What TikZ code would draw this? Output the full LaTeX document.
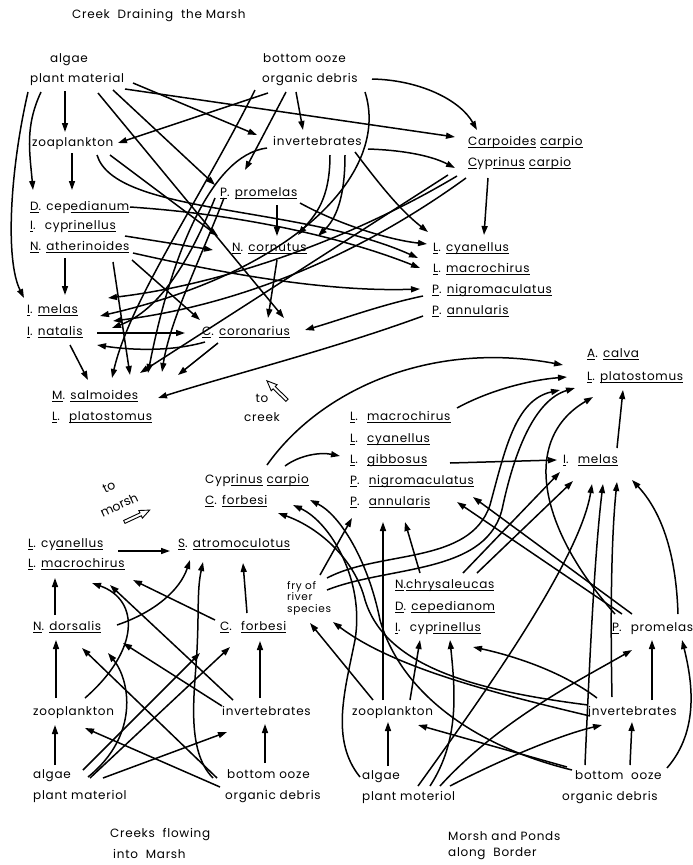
\documentclass[tikz,border=0pt]{standalone}
\usepackage{fontspec}
\setmainfont{Poppins}[LetterSpace=6]
\newfontfamily\plainf{Poppins}
\usetikzlibrary{arrows.meta}
\newcommand\Nd[5][lbl]{\expandafter\gdef\csname cx#2\endcsname{#3}\expandafter\gdef\csname cy#2\endcsname{#4}\node[#1] (#2) at (#3,-#4) {#5};}
\newcommand\Pt[3]{([shift={({#2-\csname cx#1\endcsname},{\csname cy#1\endcsname-#3})}]#1.west)}
\newcommand\Dr[1]{\edef\tmpdraw{\noexpand\draw[ar] #1;}\tmpdraw}
\newcommand\sul[1]{\setbox0\hbox{#1}\rlap{\raisebox{-2.9pt}{\rule{\wd0}{0.7pt}}}\box0}
\begin{document}
\begin{tikzpicture}[x=1pt,y=1pt,
  lbl/.style={anchor=west,inner xsep=0pt,inner ysep=0pt,text height=9pt,text depth=3pt,font=\fontsize{12}{14}\selectfont},
  fry/.style={anchor=west,inner sep=0pt,align=left,font=\fontsize{10.5}{11.5}\selectfont},
  ttl/.style={anchor=west,inner sep=0pt,font=\fontsize{12}{14}\selectfont},
  rot/.style={anchor=center,inner sep=0pt,rotate=25,font=\plainf\fontsize{12.5}{14}\selectfont},
  ar/.style={-{Triangle[length=9pt,width=6pt]},line width=1.5pt},
  hol/.style={line width=0.9pt,line join=miter}]
\useasboundingbox (0,0) rectangle (693,-865);
\fill[white] (0,0) rectangle (693,-865);
% ---------- titles ----------
\node[ttl] (t1) at (72,-16) {Creek \ Draining \ the Marsh};
\node[ttl] (t2) at (110,-835) {Creeks \ flowing};
\node[ttl] (t3) at (113,-854) {into \ Marsh};
\node[ttl] (t4) at (448,-836) {Morsh and Ponds};
\node[ttl] (t5) at (448,-854) {along \ Border};
\node[ttl,anchor=center] (tto) at (262,-398) {to};
\node[ttl,anchor=center] (tcrk) at (262,-417) {creek};
\node[rot] (tmor1) at (109,-487) {to};
\node[rot] (tmor2) at (119,-505) {morsh};
\begin{scope}[shift={(277,-390.5)},rotate=136]
\draw[hol] (-14,-1.6) -- (4,-1.6) -- (4,-4.2) -- (14,0) -- (4,4.2) -- (4,1.6) -- (-14,1.6) -- cycle;
\end{scope}
\begin{scope}[shift={(137,-516)},rotate=25]
\draw[hol] (-14,-1.6) -- (4,-1.6) -- (4,-4.2) -- (14,0) -- (4,4.2) -- (4,1.6) -- (-14,1.6) -- cycle;
\end{scope}
% ---------- top section ----------
\Nd{ta}{50}{59}{algae}
\Nd{tpm}{30}{79}{plant material}
\Nd{tbo}{263}{59}{bottom ooze}
\Nd{tod}{262}{79}{organic debris}
\Nd{tzp}{32}{143}{zoaplankton}
\Nd{tinv}{273}{142}{invertebrates}
\Nd{tpp}{220}{193}{\sul{P}. \sul{promelas}}
\Nd{tdc}{30}{207}{\sul{D}. cep\sul{edianum}}
\Nd{tic}{30}{226}{\sul{I}. \ cyp\sul{rinellus}}
\Nd{tna}{30}{247}{\sul{N}. \sul{atherinoides}}
\Nd{tnc}{232}{248}{\sul{N}. \sul{cornutus}}
\Nd{tcar}{468}{142}{\sul{Carpoides} \ \sul{carpio}}
\Nd{tcyp}{468}{163}{\sul{C}yp\sul{rinus} \ \sul{carpio}}
\Nd{tlc}{433}{248}{\sul{L}. \sul{cyanellus}}
\Nd{tlm}{433}{269}{\sul{L}. \sul{macrochirus}}
\Nd{tpn}{432}{290}{\sul{P}. \sul{nigromaculatus}}
\Nd{tpa}{432}{311}{\sul{P}. \sul{annularis}}
\Nd{tim}{27}{310}{\sul{I}. \sul{melas}}
\Nd{tin}{27}{332}{\sul{I}. \sul{natalis}}
\Nd{tcc}{202}{332}{\sul{C}. \sul{coronarius}}
\Nd{tms}{52}{396}{\sul{M}. \sul{salmoides}}
\Nd{tlp}{52}{417}{\sul{L}. \ \sul{platostomus}}
% top connectors
\Dr{\Pt{tpm}{41}{92} to[out=-115,in=95] \Pt{tdc}{33}{190}}
\Dr{\Pt{tpm}{28}{92} .. controls (10,-170) and (5,-260) .. \Pt{tim}{24}{298}}
\Dr{\Pt{tpm}{65}{91} -- \Pt{tzp}{65}{132}}
\Dr{\Pt{tpm}{133}{83} -- \Pt{tinv}{257}{135}}
\Dr{\Pt{tpm}{125}{89} -- \Pt{tcar}{455}{137}}
\Dr{\Pt{tpm}{113}{90} -- \Pt{tpp}{215}{185}}
\Dr{\Pt{tpm}{98}{93} -- \Pt{tcc}{284}{318}}
\Dr{\Pt{tzp}{72}{153} -- \Pt{tdc}{72}{190}}
\Dr{\Pt{tzp}{110}{155} -- \Pt{tnc}{218}{236}}
\Dr{\Pt{tzp}{97}{155} .. controls (115,-215) and (300,-205) .. \Pt{tlm}{418}{258}}
\Dr{\Pt{tod}{268}{93} -- \Pt{tzp}{118}{143}}
\Dr{\Pt{tod}{286}{92} -- \Pt{tpp}{245}{170}}
\Dr{\Pt{tod}{296}{92} -- \Pt{tinv}{303}{130}}
\Dr{\Pt{tod}{372}{79} .. controls (420,-80) and (460,-100) .. \Pt{tcar}{477}{130}}
\Dr{\Pt{tod}{255}{90} .. controls (200,-200) and (130,-300) .. \Pt{tms}{112}{378}}
\Dr{\Pt{tod}{365}{92} .. controls (390,-170) and (300,-270) .. \Pt{tin}{100}{316}}
\Dr{\Pt{tinv}{368}{149} .. controls (400,-150) and (430,-155) .. \Pt{tcyp}{455}{168}}
\Dr{\Pt{tinv}{355}{152} .. controls (380,-185) and (400,-210) .. \Pt{tlc}{428}{232}}
\Dr{\Pt{tinv}{330}{155} .. controls (330,-200) and (315,-215) .. \Pt{tnc}{298}{235}}
\Dr{\Pt{tinv}{345}{155} .. controls (345,-200) and (335,-220) .. \Pt{tnc}{318}{236}}
\Dr{\Pt{tinv}{267}{148} .. controls (210,-155) and (170,-260) .. \Pt{tms}{148}{373}}
\Dr{\Pt{tpp}{277}{205} -- \Pt{tnc}{277}{236}}
\Dr{\Pt{tpp}{300}{203} .. controls (340,-225) and (390,-240) .. \Pt{tlc}{427}{244}}
\Dr{\Pt{tpp}{215}{198} .. controls (190,-260) and (160,-310) .. \Pt{tin}{112}{328}}
\Dr{\Pt{tpp}{224}{198} .. controls (200,-260) and (170,-320) .. \Pt{tms}{162}{372}}
\Dr{\Pt{tcyp}{488}{178} -- \Pt{tlc}{484}{235}}
\Dr{\Pt{tcyp}{448}{175} -- \Pt{tms}{140}{373}}
\Dr{\Pt{tcyp}{457}{176} .. controls (350,-240) and (220,-285) .. \Pt{tim}{108}{298}}
\Dr{\Pt{tcyp}{466}{178} .. controls (360,-255) and (240,-305) .. \Pt{tin}{113}{321}}
\Dr{\Pt{tic}{125}{236} -- \Pt{tnc}{213}{250}}
\Dr{\Pt{tna}{65}{258} -- \Pt{tim}{65}{295}}
\Dr{\Pt{tna}{113}{262} -- \Pt{tms}{130}{375}}
\Dr{\Pt{tna}{133}{253} .. controls (230,-275) and (330,-292) .. \Pt{tpn}{420}{289}}
\Dr{\Pt{tna}{132}{260} -- \Pt{tcc}{200}{320}}
\Dr{\Pt{tdc}{130}{207} .. controls (250,-215) and (350,-240) .. \Pt{tlm}{420}{268}}
\Dr{\Pt{tnc}{277}{260} -- \Pt{tcc}{268}{318}}
\Dr{\Pt{tin}{97}{333} -- \Pt{tcc}{185}{333}}
\Dr{\Pt{tcc}{205}{342} .. controls (170,-352) and (130,-350) .. \Pt{tin}{97}{345}}
\Dr{\Pt{tin}{70}{345} -- \Pt{tms}{88}{380}}
\Dr{\Pt{tcc}{218}{343} -- \Pt{tms}{178}{375}}
\Dr{\Pt{tpn}{423}{296} .. controls (380,-305) and (340,-320) .. \Pt{tcc}{305}{330}}
\Dr{\Pt{tpa}{423}{316} .. controls (330,-350) and (230,-375) .. \Pt{tms}{158}{398}}
% ---------- bottom right ----------
\Nd{rac}{587}{354}{\sul{A}. \sul{calva}}
\Nd{rlp}{587}{377}{\sul{L}. \sul{platostomus}}
\Nd{rlm}{350}{417}{\sul{L}. \ \sul{macrochirus}}
\Nd{rlc}{350}{439}{\sul{L}. \ \sul{cyanellus}}
\Nd{rlg}{350}{460}{\sul{L}. \ \sul{gibbosus}}
\Nd{rpn}{350}{481}{\sul{P}. \ \sul{nigromaculatus}}
\Nd{rpa}{350}{502}{\sul{P}. \ \sul{annularis}}
\Nd{rcyp}{205}{480}{Cyp\sul{rinus} \ \sul{carpio}}
\Nd{rcf}{205}{501}{\sul{C}. \sul{forbesi}}
\Nd{rim}{563}{460}{\sul{I}. \ \sul{melas}}
\Nd{rnc}{395}{585}{\sul{N}.\sul{chrysaleucas}}
\Nd{rdc}{395}{607}{\sul{D}. \sul{cepedianom}}
\Nd{ric}{395}{628}{\sul{I}. \ cyp\sul{rinellus}}
\Nd{rpp}{612}{628}{\sul{P}. \ promelas}
\Nd[fry]{rfry}{287}{598}{fry of\\river\\species}
\Nd{rzp}{352}{712}{zooplankton}
\Nd{rinv}{588}{712}{invertebrates}
\Nd{ra}{362}{776}{algae}
\Nd{rpm}{362}{797}{plant moteriol}
\Nd{rbo}{575}{776}{bottom \ ooze}
\Nd{rod}{562}{797}{organic debris}
\Dr{\Pt{ra}{388}{766} -- \Pt{rzp}{388}{722}}
\Dr{\Pt{rbo}{630}{765} -- \Pt{rinv}{632}{722}}
\Dr{\Pt{rinv}{652}{700} -- \Pt{rpp}{652}{640}}
\Dr{\Pt{rbo}{667}{768} .. controls (700,-730) and (692,-680) .. \Pt{rpp}{682}{640}}
\Dr{\Pt{rzp}{410}{700} -- \Pt{ric}{420}{640}}
\Dr{\Pt{rpm}{430}{786} .. controls (460,-740) and (455,-690) .. \Pt{ric}{450}{640}}
\Dr{\Pt{rpm}{418}{786} .. controls (480,-700) and (580,-560) .. \Pt{rim}{592}{484}}
\Dr{\Pt{rpm}{440}{786} .. controls (500,-720) and (580,-680) .. \Pt{rpp}{632}{650}}
\Dr{\Pt{rpm}{450}{786} .. controls (500,-760) and (560,-735) .. \Pt{rinv}{602}{725}}
\Dr{\Pt{rbo}{567}{767} -- \Pt{rzp}{418}{725}}
\Dr{\Pt{rbo}{585}{765} .. controls (590,-650) and (595,-550) .. \Pt{rim}{603}{484}}
\Dr{\Pt{rinv}{612}{697} .. controls (610,-600) and (612,-530) .. \Pt{rim}{617}{482}}
\Dr{\Pt{rpp}{678}{614} .. controls (676,-550) and (660,-510) .. \Pt{rim}{632}{480}}
\Dr{\Pt{rpp}{615}{614} .. controls (540,-530) and (520,-440) .. \Pt{rlp}{593}{397}}
\Dr{\Pt{rpp}{622}{614} -- \Pt{rpa}{457}{502}}
\Dr{\Pt{rpp}{632}{614} -- \Pt{rpn}{473}{497}}
\Dr{\Pt{rfry}{327}{578} .. controls (380,-550) and (470,-565) .. (490,-505) .. controls (505,-450) and (515,-400) .. \Pt{rlp}{560}{390}}
\Dr{\Pt{rfry}{327}{590} .. controls (390,-565) and (490,-575) .. (503,-505) .. controls (515,-450) and (535,-400) .. \Pt{rlp}{575}{388}}
\Dr{\Pt{rfry}{320}{575} -- \Pt{rpa}{352}{518}}
\Dr{\Pt{rzp}{383}{700} -- \Pt{rpa}{383}{522}}
\Dr{\Pt{rnc}{420}{573} -- \Pt{rpa}{405}{522}}
\Dr{\Pt{rnc}{463}{573} -- \Pt{rim}{560}{472}}
\Dr{\Pt{rnc}{477}{573} -- \Pt{rim}{573}{481}}
\Dr{\Pt{rzp}{373}{700} -- \Pt{rfry}{310}{623}}
\Dr{\Pt{rinv}{590}{716} .. controls (480,-690) and (390,-665) .. \Pt{rfry}{333}{622}}
\Dr{\Pt{rinv}{588}{705} .. controls (470,-690) and (385,-665) .. (365,-600) .. controls (355,-560) and (320,-528) .. \Pt{rcf}{278}{513}}
\Dr{\Pt{rbo}{572}{770} .. controls (470,-745) and (400,-690) .. (380,-620) .. controls (368,-560) and (340,-515) .. \Pt{rcf}{310}{500}}
\Dr{\Pt{ra}{360}{777} .. controls (330,-740) and (345,-690) .. (355,-640) .. controls (365,-580) and (330,-522) .. \Pt{rcf}{293}{505}}
\Dr{\Pt{rinv}{597}{698} .. controls (560,-670) and (510,-655) .. \Pt{ric}{473}{647}}
\Dr{\Pt{rcyp}{267}{465} .. controls (320,-390) and (430,-340) .. \Pt{rac}{563}{365}}
\Dr{\Pt{rcyp}{285}{466} .. controls (300,-455) and (320,-452) .. \Pt{rlg}{340}{456}}
\Dr{\Pt{rlm}{457}{408} .. controls (490,-390) and (530,-380) .. \Pt{rlp}{567}{377}}
\Dr{\Pt{rlg}{450}{463} -- \Pt{rim}{557}{460}}
\Dr{\Pt{rim}{617}{448} -- \Pt{rlp}{623}{390}}
% ---------- bottom left ----------
\Nd{llc}{28}{544}{\sul{L}. cy\sul{anellus}}
\Nd{llm}{28}{564}{\sul{L}. \sul{macrochirus}}
\Nd{lsa}{178}{544}{\sul{S}. \sul{atromoculotus}}
\Nd{lnd}{33}{627}{\sul{N}. \sul{dorsalis}}
\Nd{lcf}{220}{627}{\sul{C}. \ \sul{forbesi}}
\Nd{lzp}{33}{712}{zooplankton}
\Nd{linv}{222}{712}{invertebrates}
\Nd{la}{33}{775}{algae}
\Nd{lpm}{33}{796}{plant materiol}
\Nd{lbo}{227}{775}{bottom ooze}
\Nd{lod}{225}{796}{organic debris}
\Dr{\Pt{la}{55}{765} -- \Pt{lzp}{55}{725}}
\Dr{\Pt{lbo}{265}{763} -- \Pt{linv}{265}{724}}
\Dr{\Pt{linv}{260}{698} -- \Pt{lcf}{260}{641}}
\Dr{\Pt{lzp}{56}{698} -- \Pt{lnd}{56}{640}}
\Dr{\Pt{lnd}{55}{615} -- \Pt{llm}{55}{578}}
\Dr{\Pt{llc}{118}{551} -- \Pt{lsa}{170}{551}}
\Dr{\Pt{lcf}{247}{613} -- \Pt{lsa}{243}{563}}
\Dr{\Pt{lcf}{215}{620} -- \Pt{llm}{133}{580}}
\Dr{\Pt{lnd}{117}{625} .. controls (155,-612) and (180,-590) .. \Pt{lsa}{190}{560}}
\Dr{\Pt{lbo}{213}{778} .. controls (185,-750) and (195,-690) .. (197,-650) .. controls (199,-610) and (197,-590) .. \Pt{lsa}{203}{562}}
\Dr{\Pt{lzp}{85}{698} .. controls (140,-650) and (140,-600) .. \Pt{llm}{92}{583}}
\Dr{\Pt{linv}{233}{700} -- \Pt{llm}{110}{585}}
\Dr{\Pt{linv}{222}{706} -- \Pt{lnd}{123}{643}}
\Dr{\Pt{lbo}{217}{778} -- \Pt{lnd}{82}{648}}
\Dr{\Pt{la}{88}{777} .. controls (140,-735) and (130,-680) .. \Pt{lnd}{108}{653}}
\Dr{\Pt{la}{83}{770} -- \Pt{lcf}{200}{653}}
\Dr{\Pt{la}{90}{778} -- \Pt{lcf}{230}{647}}
\Dr{\Pt{la}{103}{778} -- \Pt{linv}{227}{732}}
\Dr{\Pt{lod}{220}{787} -- \Pt{lzp}{85}{728}}
\end{tikzpicture}
\end{document}
